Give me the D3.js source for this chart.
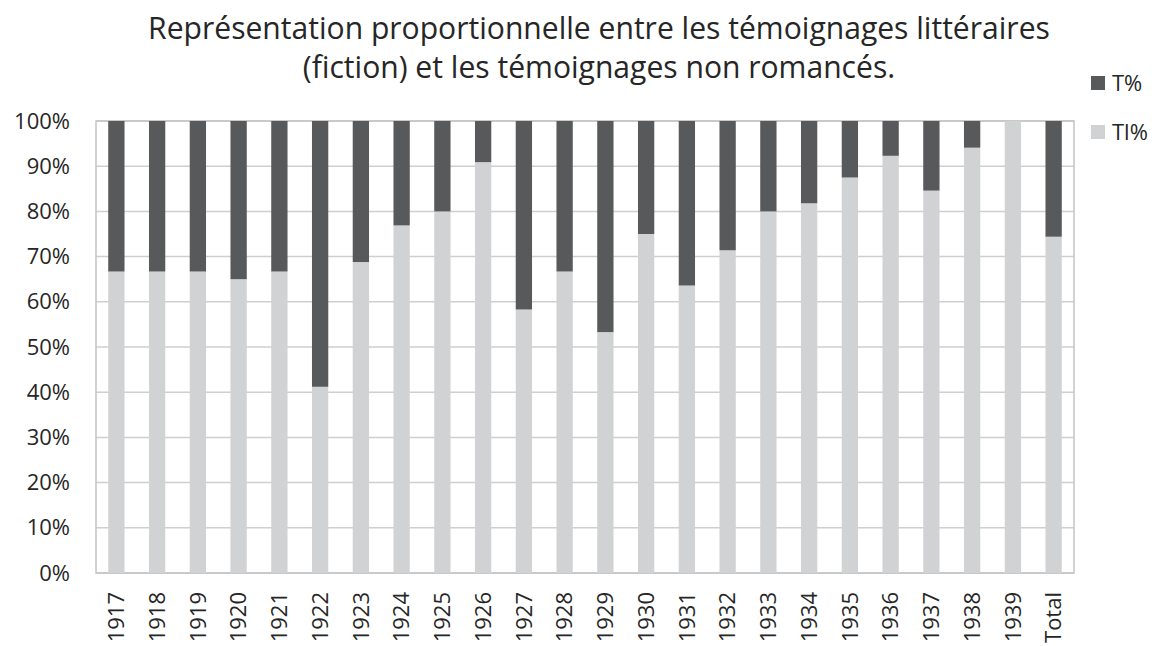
<!DOCTYPE html>
<html>
<head>
<meta charset="utf-8">
<script src="https://cdnjs.cloudflare.com/ajax/libs/d3/7.8.5/d3.min.js"></script>
<style>
  body { margin: 0; background: #fff; }
  text { font-family: "Open Sans", sans-serif; fill: #262626; }
</style>
</head>
<body>
<svg id="chart" width="1154" height="646"></svg>
<script>
const years = ["1917", "1918", "1919", "1920", "1921", "1922", "1923", "1924", "1925", "1926",
  "1927", "1928", "1929", "1930", "1931", "1932", "1933", "1934", "1935", "1936",
  "1937", "1938", "1939", "Total"];
// part litteraire (Tl%), bas des barres
const tlPct = [66.7, 66.7, 66.7, 65.0, 66.7, 41.2, 68.8, 76.9, 80.0, 90.9,
  58.3, 66.7, 53.3, 75.0, 63.6, 71.4, 80.0, 81.8, 87.5, 92.3,
  84.6, 94.1, 100, 74.4];
// part non romancee (T%), complement
const tPct = tlPct.map(v => 100 - v);
const seriesNames = ["T%", "Tl%"];
const seriesColors = {"T%": "#58595b", "Tl%": "#d1d2d4"};
const yTicks = [0, 10, 20, 30, 40, 50, 60, 70, 80, 90, 100];
const titleLines = ["Représentation proportionnelle entre les témoignages littéraires",
  "(fiction) et les témoignages non romancés."];

let svg = d3.select("#chart");
let plotLeft = 96, plotRight = 1074, plotTop = 121, plotBottom = 573;

let x = d3.scaleBand().domain(years).range([plotLeft, plotRight]).paddingInner(0.6).paddingOuter(0.3);
let y = d3.scaleLinear().domain([0, 100]).range([plotBottom, plotTop]);

let rows = years.map((yr, i) => ({year: yr, "Tl%": tlPct[i], "T%": tPct[i]}));
let stacked = d3.stack().keys(["Tl%", "T%"])(rows);

// grille
svg.append("g")
  .selectAll("line")
  .data(yTicks)
  .enter()
  .append("line")
  .attr("x1", plotLeft)
  .attr("x2", plotRight)
  .attr("y1", d => y(d))
  .attr("y2", d => y(d))
  .attr("stroke", "#cfcfcf")
  .attr("stroke-width", 1.5);

svg.append("rect")
  .attr("x", plotLeft)
  .attr("y", plotTop)
  .attr("width", plotRight - plotLeft)
  .attr("height", plotBottom - plotTop)
  .attr("fill", "none")
  .attr("stroke", "#c4c4c4")
  .attr("stroke-width", 1.5);

// barres empilees
svg.append("g")
  .selectAll("g")
  .data(stacked)
  .enter()
  .append("g")
  .attr("fill", d => seriesColors[d.key])
  .selectAll("rect")
  .data(d => d)
  .enter()
  .append("rect")
  .attr("x", d => x(d.data.year))
  .attr("width", x.bandwidth())
  .attr("y", d => y(d[1]))
  .attr("height", d => y(d[0]) - y(d[1]));

// axe y
let yAxis = d3.axisLeft(y).tickValues(yTicks).tickFormat(d => d + "%").tickSize(0).tickPadding(26);
let yg = svg.append("g").attr("transform", "translate(" + plotLeft + ",0)").call(yAxis);
yg.select(".domain").remove();
yg.selectAll("text").style("font-size", "22px").style("font-family", "Open Sans").attr("fill", "#262626");

// axe x, etiquettes verticales
let xAxis = d3.axisBottom(x).tickSize(0).tickPadding(0);
let xg = svg.append("g").attr("transform", "translate(0," + plotBottom + ")").call(xAxis);
xg.select(".domain").remove();
xg.selectAll("text")
  .style("font-size", "22px")
  .style("font-family", "Open Sans")
  .attr("fill", "#262626")
  .attr("text-anchor", "end")
  .attr("dy", "0.35em")
  .attr("transform", "translate(0,19) rotate(-90)")
  .attr("y", 0)
  .attr("x", 0);

// titre
let title = svg.append("g");
title.selectAll("text")
  .data(titleLines)
  .enter()
  .append("text")
  .attr("x", 599)
  .attr("y", (d, i) => 39 + i * 39)
  .attr("text-anchor", "middle")
  .style("font-size", "28px")
  .text(d => d);
// ajuster la taille pour la largeur de la ligne 1
let w = title.select("text").node().getComputedTextLength();
let fs = 28 * 902 / w;
title.selectAll("text").style("font-size", fs + "px");

// legende
let legend = svg.append("g");
seriesNames.forEach((name, i) => {
  let ly = 83 + i * 49;
  legend.append("rect")
    .attr("x", 1091)
    .attr("y", ly - 7)
    .attr("width", 14)
    .attr("height", 14)
    .attr("fill", seriesColors[name]);
  legend.append("text")
    .attr("x", 1112)
    .attr("y", ly)
    .attr("dy", "0.35em")
    .style("font-size", "22px")
    .text(name);
});
</script>
</body>
</html>
